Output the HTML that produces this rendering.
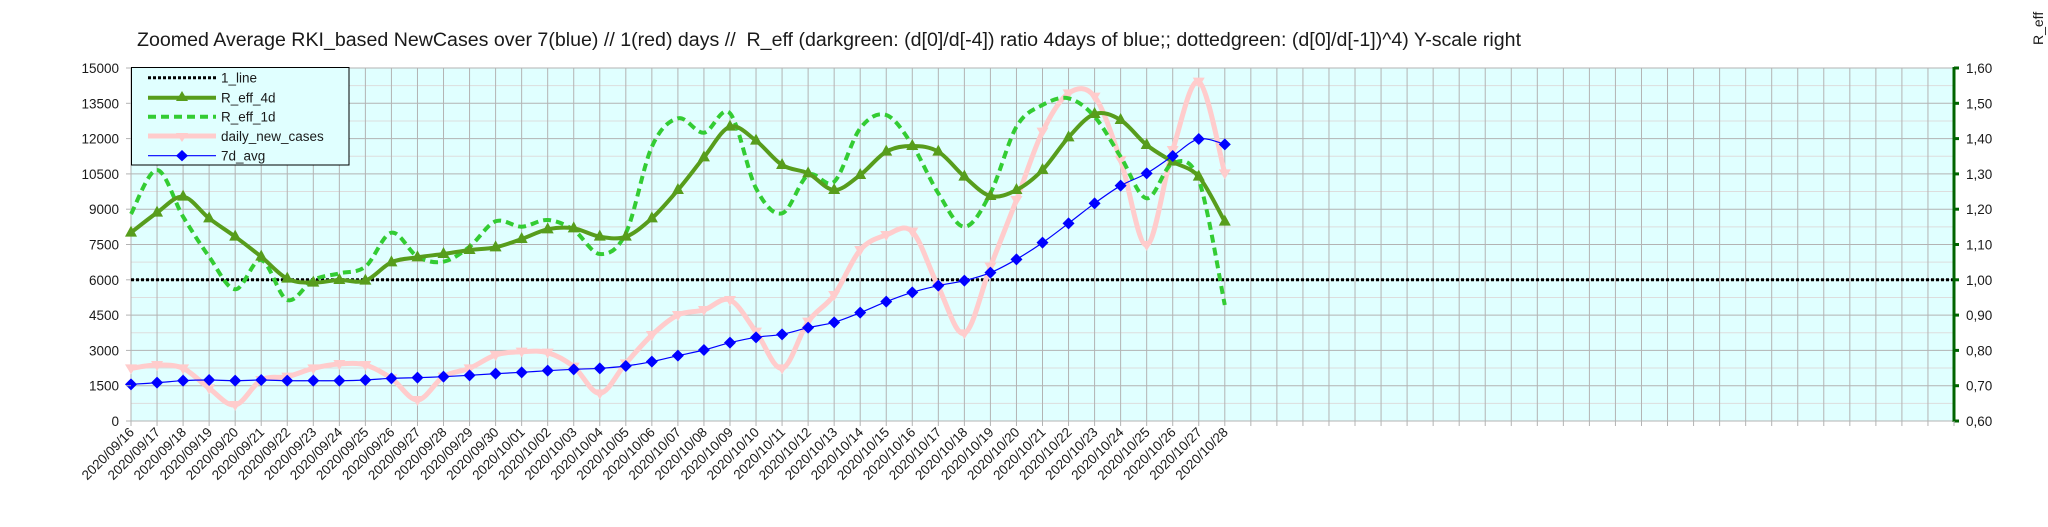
<!DOCTYPE html>
<html><head><meta charset="utf-8"><style>
html,body{margin:0;padding:0;background:#fff;}
svg{display:block;font-family:"Liberation Sans",sans-serif;}
</style></head><body>
<svg id="s" width="2048" height="527" xmlns="http://www.w3.org/2000/svg">
<rect x="0" y="0" width="2048" height="527" fill="#fff"/>
<rect x="131" y="68" width="1823" height="353" fill="#e0ffff"/>
<g id="grid"></g>
<g id="series"></g>
<g id="axes"></g>
<text x="137" y="46" font-size="19.6" fill="#1a1a1a" style="white-space:pre">Zoomed Average RKI_based NewCases over 7(blue) // 1(red) days //  R_eff (darkgreen: (d[0]/d[-4]) ratio 4days of blue;; dottedgreen: (d[0]/d[-1])^4) Y-scale right</text>
<text transform="translate(2043,45) rotate(-90)" font-size="14" fill="#1a1a1a">R_eff</text>
<g id="legend">
<rect x="131.5" y="67.5" width="217.5" height="97.5" fill="#e0ffff" stroke="#000" stroke-width="1"/>
<line x1="148" y1="77.7" x2="216" y2="77.7" stroke="#000" stroke-width="3" stroke-dasharray="3,2"/>
<text x="221" y="82.5" font-size="13.5" fill="#1a1a1a">1_line</text>
<line x1="148" y1="97.7" x2="216" y2="97.7" stroke="#579d1c" stroke-width="4"/>
<polygon points="182,91 188,101 176,101" fill="#579d1c"/>
<text x="221" y="102.5" font-size="13.5" fill="#1a1a1a">R_eff_4d</text>
<line x1="148" y1="116.7" x2="216" y2="116.7" stroke="#33cc33" stroke-width="4" stroke-dasharray="8,5"/>
<text x="221" y="121.5" font-size="13.5" fill="#1a1a1a">R_eff_1d</text>
<line x1="148" y1="136" x2="216" y2="136" stroke="#ffcccc" stroke-width="5"/>
<polygon points="176,133 188,133 182,142" fill="#ffcccc"/>
<text x="221" y="140.8" font-size="13.5" fill="#1a1a1a">daily_new_cases</text>
<line x1="148" y1="155.7" x2="216" y2="155.7" stroke="#0000ff" stroke-width="1.2"/>
<polygon points="182,150 188,155.7 182,161.4 176,155.7" fill="#0000ff"/>
<text x="221" y="160.5" font-size="13.5" fill="#1a1a1a">7d_avg</text>
</g>
</svg>
<script>
var NS="http://www.w3.org/2000/svg";
function el(p,t,a,txt){var e=document.createElementNS(NS,t);for(var k in a)e.setAttribute(k,a[k]);if(txt!==undefined)e.textContent=txt;p.appendChild(e);return e;}
var L=131,R=1954,T=68,B=421,N=70,st=(R-L)/N;
var grid=document.getElementById('grid'),axes=document.getElementById('axes'),ser=document.getElementById('series');
for(var j=0;j<20;j++){var y=B-(B-T)*j/20;if(j%2==1)el(grid,'line',{x1:L,x2:R,y1:y,y2:y,stroke:'#dddddd','stroke-width':1});}
for(var i=0;i<=N;i++){var x=L+st*i;el(grid,'line',{x1:x,x2:x,y1:T,y2:B,stroke:'#b3b3b3','stroke-width':1});}
for(var j=0;j<=10;j++){var y=B-(B-T)*j/10;el(grid,'line',{x1:L,x2:R,y1:y,y2:y,stroke:'#b3b3b3','stroke-width':1});
 el(axes,'line',{x1:L-5,x2:L,y1:y,y2:y,stroke:'#b3b3b3'});
 el(axes,'text',{x:119,y:y+5,'font-size':13.5,'text-anchor':'end',fill:'#1a1a1a'},String(1500*j));
 el(axes,'line',{x1:R,x2:R+5,y1:y,y2:y,stroke:'#006400','stroke-width':3});
 el(axes,'text',{x:1966,y:y+5,'font-size':13.5,fill:'#1a1a1a'},(0.6+0.1*j).toFixed(2).replace('.',','));
}
el(axes,'line',{x1:R,x2:R,y1:T-1,y2:B+1,stroke:'#006400','stroke-width':3});
for(var i=0;i<=N;i++){var x=L+st*i;el(axes,'line',{x1:x,x2:x,y1:B,y2:B+5,stroke:'#b3b3b3'});}
var d0=new Date(2020,8,16);
for(var i=0;i<43;i++){var d=new Date(d0.getTime()+i*86400000+3600000*3);var s=d.getFullYear()+'/'+('0'+(d.getMonth()+1)).slice(-2)+'/'+('0'+d.getDate()).slice(-2);
 var x=L+st*i+4;el(axes,'text',{transform:'translate('+x+',433) rotate(-45)','font-size':13.5,'text-anchor':'end',fill:'#1a1a1a'},s);}
var blue=[973,968,962,960,962,960,962,962,962,960,955,953,950,946,941,937,932,928,925,918,905,887,870,848,832,823,803,787,758,725,697,677,662,638,598,548,490,430,377,340,288,237,253];
var r4=[518,458,410,475,530,590,656,668,660,662,607,592,582,570,562,537,508,505,530,530,475,390,292,200,242,315,340,390,345,275,258,275,350,408,390,330,232,162,180,255,305,350,485];
var r1=[462,330,470,590,688,600,720,660,640,620,518,590,605,560,484,500,480,510,582,520,260,175,218,160,385,460,345,365,205,165,255,400,500,400,200,135,115,170,290,415,310,360,735];
var pk=[925,915,925,985,1035,960,950,925,912,915,955,1020,950,925,885,875,878,920,1000,910,825,765,750,720,815,925,785,705,570,525,515,680,820,620,420,215,100,110,300,555,270,65,340];
function pts(a){return a.map(function(z,i){return [L+st*i,60+z/3];});}
function spline(p){var d='M'+p[0][0]+','+p[0][1];for(var i=0;i<p.length-1;i++){var p0=p[i-1]||p[i],p1=p[i],p2=p[i+1],p3=p[i+2]||p2;
 var c1=[p1[0]+(p2[0]-p0[0])/6,p1[1]+(p2[1]-p0[1])/6],c2=[p2[0]-(p3[0]-p1[0])/6,p2[1]-(p3[1]-p1[1])/6];
 d+=' C'+c1[0].toFixed(1)+','+c1[1].toFixed(1)+' '+c2[0].toFixed(1)+','+c2[1].toFixed(1)+' '+p2[0].toFixed(1)+','+p2[1].toFixed(1);}return d;}
el(ser,'line',{x1:L,x2:R,y1:279.8,y2:279.8,stroke:'#000','stroke-width':3,'stroke-dasharray':'3,2'});
var P=pts(pk);el(ser,'path',{d:spline(P),fill:'none',stroke:'#ffcccc','stroke-width':5});
P.forEach(function(p){el(ser,'polygon',{points:(p[0]-6)+','+(p[1]-4)+' '+(p[0]+6)+','+(p[1]-4)+' '+p[0]+','+(p[1]+6),fill:'#ffcccc'});});
var Q=pts(r1);el(ser,'path',{d:spline(Q),fill:'none',stroke:'#33cc33','stroke-width':4,'stroke-dasharray':'8,5'});
var G=pts(r4);el(ser,'path',{d:spline(G),fill:'none',stroke:'#579d1c','stroke-width':4});
G.forEach(function(p){el(ser,'polygon',{points:p[0]+','+(p[1]-7)+' '+(p[0]+6)+','+(p[1]+4)+' '+(p[0]-6)+','+(p[1]+4),fill:'#579d1c'});});
var Bp=pts(blue);el(ser,'path',{d:spline(Bp),fill:'none',stroke:'#0000ff','stroke-width':1.2});
Bp.forEach(function(p){el(ser,'polygon',{points:p[0]+','+(p[1]-6)+' '+(p[0]+6)+','+p[1]+' '+p[0]+','+(p[1]+6)+' '+(p[0]-6)+','+p[1],fill:'#0000ff'});});
</script>
</body></html>
